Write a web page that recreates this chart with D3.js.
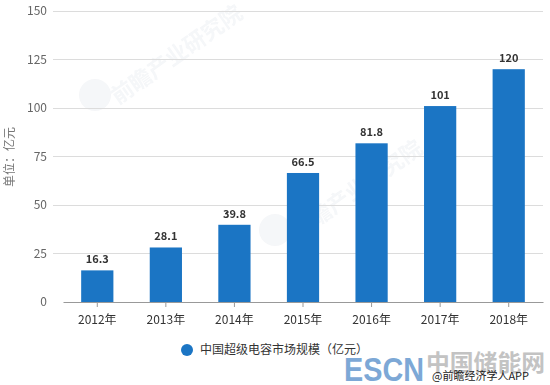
<!DOCTYPE html>
<html><head><meta charset="utf-8">
<script src="https://cdn.jsdelivr.net/npm/d3@7"></script>
<style>body{margin:0;background:#fff}svg{display:block;font-family:"Microsoft YaHei","Noto Sans CJK SC",sans-serif}</style>
</head><body>
<svg id="c" width="550" height="385"></svg>
<script>
const categories = ["2012年","2013年","2014年","2015年","2016年","2017年","2018年"];
const values = [16.3, 28.1, 39.8, 66.5, 81.8, 101, 120];
const yTicks = [0, 25, 50, 75, 100, 125, 150];
const seriesName = "中国超级电容市场规模（亿元）";
const yTitle = "单位：亿元";

(function () {
const svg = d3.select("#c");
const mLeft = 63, mRight = 543, mTop = 11, mBottom = 302;
const x = d3.scaleBand().domain(categories).range([mLeft, mRight]).paddingInner(0.53).paddingOuter(0.265);
const y = d3.scaleLinear().domain([0, 150]).range([mBottom, mTop]);
const color = "#1b75c4";

// watermarks (faint)
const wm = svg.append("g").attr("opacity", 0.08).attr("fill", "#7f93ab");
wm.append("circle").attr("cx", 95).attr("cy", 95).attr("r", 16);
wm.append("text").attr("transform", "translate(118,105) rotate(-35)").attr("font-size", 22).attr("font-weight", "bold").text("前瞻产业研究院");
wm.append("circle").attr("cx", 275).attr("cy", 230).attr("r", 16);
wm.append("text").attr("transform", "translate(298,240) rotate(-35)").attr("font-size", 22).attr("font-weight", "bold").text("前瞻产业研究院");

// gridlines
svg.append("g").selectAll("line").data(yTicks.filter(d => d > 0)).join("line")
  .attr("x1", 53).attr("x2", mRight).attr("y1", d => y(d)).attr("y2", d => y(d))
  .attr("stroke", "#dcdcdc").attr("stroke-width", 1).attr("shape-rendering", "crispEdges");

// y axis labels
svg.append("g").selectAll("text").data(yTicks).join("text")
  .attr("x", 47).attr("y", d => y(d)).attr("dy", "0.35em").attr("text-anchor", "end")
  .attr("font-size", 12).attr("fill", "#666").text(d => d);

svg.append("text").attr("transform", `translate(14,157) rotate(-90)`)
  .attr("text-anchor", "middle").attr("font-size", 12).attr("fill", "#777").text(yTitle);

// bars
svg.append("g").selectAll("rect").data(values).join("rect")
  .attr("x", (d, i) => x(categories[i])).attr("width", x.bandwidth())
  .attr("y", d => y(d)).attr("height", d => y(0) - y(d)).attr("fill", color);

// value labels
svg.append("g").selectAll("text").data(values).join("text")
  .attr("x", (d, i) => x(categories[i]) + x.bandwidth() / 2).attr("y", d => y(d) - 7)
  .attr("text-anchor", "middle").attr("font-size", 11).attr("font-weight", "bold")
  .attr("fill", "#333").text(d => d);

// x axis
const xa = svg.append("g").attr("transform", `translate(0,${mBottom})`)
  .call(d3.axisBottom(x).tickSize(5).tickSizeOuter(0));
xa.select(".domain").attr("stroke", "#999");
xa.selectAll(".tick line").attr("stroke", "#999");
xa.selectAll(".tick text").attr("font-size", 12).attr("fill", "#333").attr("dy", "1.2em")
  .attr("font-family", '"Microsoft YaHei","Noto Sans CJK SC",sans-serif');

// legend
svg.append("circle").attr("cx", 187).attr("cy", 350).attr("r", 6).attr("fill", color);
svg.append("text").attr("x", 200).attr("y", 350).attr("dy", "0.35em").attr("font-size", 12)
  .attr("fill", "#333").text(seriesName);

// ESCN watermark
svg.append("text").attr("x", 344).attr("y", 381).attr("font-size", 33).attr("font-weight", "bold")
  .attr("font-family", "Arial, Liberation Sans, sans-serif").attr("fill", "#6f9fd2").attr("opacity", 0.9)
  .attr("textLength", 80).attr("lengthAdjust", "spacingAndGlyphs").text("ESCN");
svg.append("text").attr("x", 426).attr("y", 371).attr("font-size", 23).attr("font-weight", "bold")
  .attr("fill", "#b9b9b9").attr("opacity", 0.85)
  .attr("textLength", 119).attr("lengthAdjust", "spacingAndGlyphs").text("中国储能网");
svg.append("text").attr("x", 432).attr("y", 380).attr("font-size", 11)
  .attr("fill", "#222").text("@前瞻经济学人APP");
})();
</script>
</body></html>
